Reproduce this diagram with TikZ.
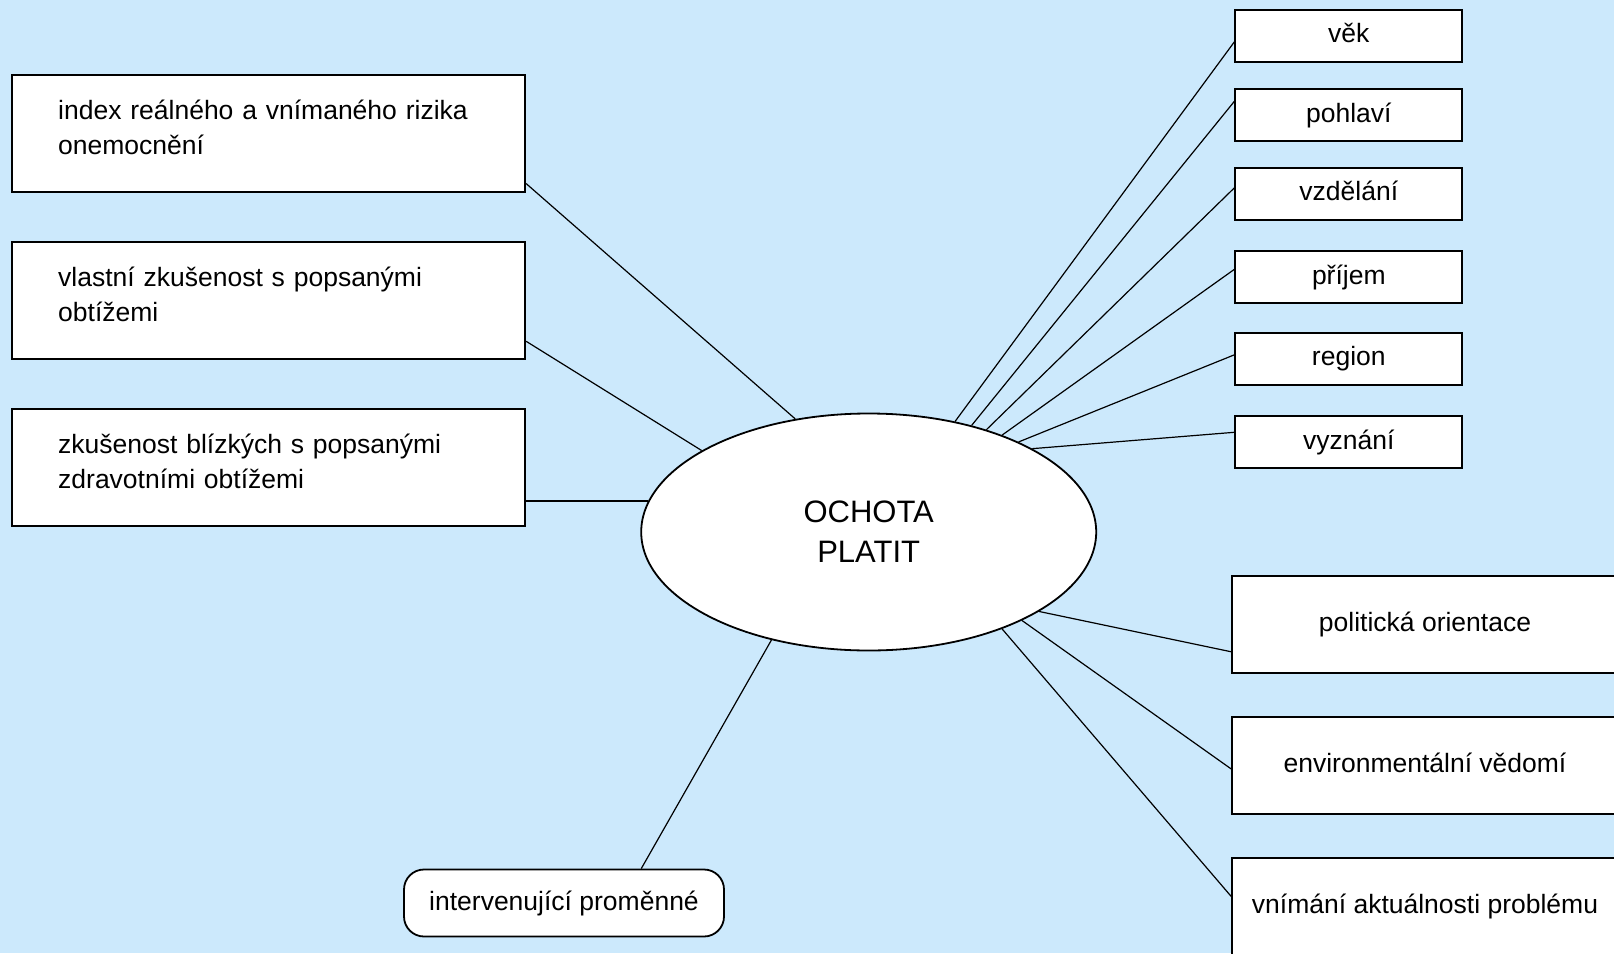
\documentclass[tikz,border=0pt]{standalone}
\usepackage{fontspec}
\setmainfont{Liberation Sans}
\usetikzlibrary{shapes.geometric}
\definecolor{paleblue}{RGB}{204,233,252}

\begin{document}
\begin{tikzpicture}[x=1pt, y=1pt]
  % Define styles
  \tikzstyle{cause}=[rectangle, draw=black, line width=1.8pt, fill=white, text width=421pt, inner xsep=46pt, inner ysep=0pt, minimum height=117pt, align=left, text height=24pt, text depth=52pt, node distance=167pt, font=\fontsize{26.5}{35}\selectfont]
  \tikzstyle{factor}=[rectangle, draw=black, line width=1.8pt, fill=white, minimum width=227pt, minimum height=52pt, inner sep=0pt, text height=20pt, text depth=6pt, node distance=81.5pt, font=\fontsize{26.5}{35}\selectfont]
  \tikzstyle{attitude}=[factor, minimum width=386pt, minimum height=97pt, node distance=141pt]
  \tikzstyle{goal}=[ellipse, draw=black, line width=1.8pt, fill=white, minimum width=455pt, minimum height=237pt, inner sep=0pt, align=center, font=\fontsize{31}{40}\selectfont]
  \tikzstyle{mediator}=[rectangle, rounded corners=20pt, draw=black, line width=1.8pt, fill=white, minimum width=320pt, minimum height=67pt, text height=20pt, text depth=6pt, font=\fontsize{26.5}{35}\selectfont]
  \tikzstyle{link}=[line width=1.2pt]

  % Background
  \useasboundingbox (0,0) rectangle (1614,-953);
  \clip (0,0) rectangle (1614,-953);
  \fill[paleblue] (0,0) rectangle (1614,-953);

  % Nodes
  \node[goal] (wtp) at (868.7,-532) {OCHOTA\\PLATIT};
  \node[cause] (risk) at (268.7,-133.5) {index reálného a vnímaného rizika\\onemocnění};
  \node[cause, below of=risk] (own) {vlastní zkušenost s popsanými\\obtížemi};
  \node[cause, below of=own] (close) {zkušenost blízkých s popsanými\\zdravotními obtížemi};
  \node[factor] (age) at (1348.8,-35.8) {věk};
  \node[factor, below of=age, yshift=2pt] (sex) {pohlaví};
  \node[factor, below of=sex, yshift=3pt] (edu) {vzdělání};
  \node[factor, below of=edu, yshift=-2pt] (income) {příjem};
  \node[factor, below of=income] (region) {region};
  \node[factor, below of=region, yshift=-2pt] (faith) {vyznání};
  \node[attitude] (politics) at (1425,-624.5) {politická orientace};
  \node[attitude, below of=politics] (env) {environmentální vědomí};
  \node[attitude, below of=env] (urgency) {vnímání aktuálnosti problému};
  \node[mediator] (inter) at (564,-903) {intervenující proměnné};

  % Links
  \draw[link] (risk.-11) -- (wtp.123);
  \draw[link] (own.-9) -- (wtp.154);
  \draw[link] (wtp.172) -- (wtp.172 -| close.east);
  \draw[link] (inter.24) -- (wtp.228);
  \draw[link] (age.183) -- (wtp.52);
  \draw[link] (sex.173) -- (wtp.46);
  \draw[link] (edu.177) -- (wtp.41);
  \draw[link] (income.176) -- (wtp.36);
  \draw[link] (region.178) -- (wtp.31);
  \draw[link] (faith.175) -- (wtp.27);
  \draw[link] (politics.188) -- (wtp.-25);
  \draw[link] (env.181) -- (wtp.-30);
  \draw[link] (urgency.177) -- (wtp.-36);
\end{tikzpicture}
\end{document}
